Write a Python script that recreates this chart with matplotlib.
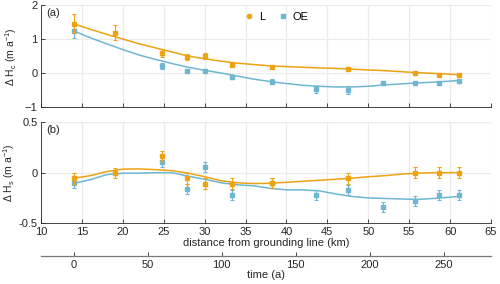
import matplotlib
matplotlib.use("Agg")
import matplotlib.pyplot as plt
from matplotlib.lines import Line2D

plt.rcParams['font.family'] = ['Liberation Sans', 'DejaVu Sans']
plt.rcParams['mathtext.default'] = 'regular'
plt.rcParams['font.size'] = 8

ORANGE = '#EDA212'
BLUE = '#6FB6D2'
AXC = '#262626'
GRIDC = '#EBEBEB'

# measured points
dist_L = [14, 19.1, 24.8, 27.8, 30.1, 33.4, 38.2, 47.5, 55.7, 58.6, 61.1]
dist_OE = [14, 24.8, 27.8, 30.1, 33.4, 38.2, 43.6, 47.5, 51.8, 55.7, 58.6, 61.1]

hc_L = [1.46, 1.20, 0.59, 0.49, 0.51, 0.26, 0.19, 0.13, 0.02, -0.04, -0.04]
hc_L_err = [0.28, 0.22, 0.12, 0.09, 0.10, 0.05, 0.04, 0.03, 0.03, 0.03, 0.03]
hc_OE = [1.25, 0.22, 0.07, 0.08, -0.12, -0.24, -0.47, -0.49, -0.28, -0.28, -0.27, -0.23]
hc_OE_err = [0.22, 0.08, 0.05, 0.05, 0.05, 0.06, 0.11, 0.11, 0.06, 0.06, 0.06, 0.06]

hs_L = [-0.055, 0.0, 0.165, -0.055, -0.11, -0.11, -0.105, -0.055, 0.0, 0.0, 0.0]
hs_L_err = [0.055, 0.05, 0.05, 0.055, 0.055, 0.055, 0.05, 0.055, 0.055, 0.055, 0.055]
hs_OE = [-0.105, 0.11, -0.165, 0.055, -0.225, -0.105, -0.22, -0.17, -0.34, -0.28, -0.22, -0.22]
hs_OE_err = [0.05, 0.05, 0.05, 0.05, 0.05, 0.05, 0.05, 0.05, 0.05, 0.05, 0.05, 0.05]

# fitted curves
fit_x = [14, 16, 18, 20, 22, 24, 26, 28, 30, 32, 34, 36, 38, 40, 42, 44, 46, 48, 50, 52, 54, 56, 58, 61.1]
fit_hc_L = [1.46, 1.30, 1.15, 1.01, 0.87, 0.75, 0.63, 0.51, 0.43, 0.36, 0.30, 0.26, 0.22, 0.20,
            0.18, 0.16, 0.145, 0.125, 0.10, 0.08, 0.05, 0.02, 0.0, -0.04]
fit_hc_OE = [1.25, 1.05, 0.87, 0.70, 0.54, 0.41, 0.29, 0.18, 0.09, 0.01, -0.08, -0.17, -0.24, -0.30,
             -0.35, -0.38, -0.40, -0.40, -0.38, -0.34, -0.31, -0.28, -0.26, -0.21]
fit_hs_L = [-0.055, -0.03, 0.01, 0.035, 0.037, 0.03, 0.02, -0.005, -0.04, -0.08, -0.10, -0.108,
            -0.105, -0.095, -0.085, -0.075, -0.065, -0.055, -0.04, -0.03, -0.015, -0.005, 0.0, 0.0]
fit_hs_OE = [-0.105, -0.07, -0.02, -0.005, -0.005, 0.0, 0.0, -0.035, -0.065, -0.10, -0.12, -0.13,
             -0.155, -0.17, -0.17, -0.18, -0.21, -0.235, -0.25, -0.255, -0.26, -0.265, -0.255, -0.235]

fig = plt.figure(figsize=(5.0, 2.84), dpi=100)
ax1 = fig.add_axes([0.082, 0.622, 0.9, 0.359])
ax2 = fig.add_axes([0.082, 0.214, 0.9, 0.356])


def style(ax, yticks, ylim):
    ax.set_xlim(10, 65)
    ax.set_ylim(*ylim)
    ax.set_xticks(range(10, 66, 5))
    ax.set_yticks(yticks)
    ax.grid(True, color=GRIDC, lw=0.9)
    ax.set_axisbelow(True)
    for s in ['top', 'right']:
        ax.spines[s].set_visible(False)
    for s in ['left', 'bottom']:
        ax.spines[s].set_color(AXC)
        ax.spines[s].set_linewidth(0.6)
    ax.tick_params(direction='in', length=3, width=0.6, colors=AXC, labelsize=8, pad=2.5)


def draw(ax, cL, cOE, yL, eL, yOE, eOE):
    ax.plot(fit_x, cL, color=ORANGE, lw=1.1, zorder=2)
    ax.plot(fit_x, cOE, color=BLUE, lw=1.1, zorder=2)
    ax.errorbar(dist_OE, yOE, yerr=eOE, fmt='s', ms=3, color=BLUE, ecolor=BLUE,
                elinewidth=0.8, capsize=1.5, capthick=0.8, zorder=3)
    ax.errorbar(dist_L, yL, yerr=eL, fmt='s', ms=3, color=ORANGE, ecolor=ORANGE,
                elinewidth=0.8, capsize=1.5, capthick=0.8, zorder=4)


style(ax1, [-1, 0, 1, 2], (-1, 2))
ax1.tick_params(labelbottom=False)
draw(ax1, fit_hc_L, fit_hc_OE, hc_L, hc_L_err, hc_OE, hc_OE_err)
ax1.set_ylabel(r'$\Delta$ H$_c$ (m a$^{-1}$)', color=AXC, fontsize=7.5, labelpad=4)
ax1.text(0.012, 0.97, '(a)', transform=ax1.transAxes, va='top', ha='left', color=AXC, fontsize=8)

style(ax2, [-0.5, 0, 0.5], (-0.5, 0.5))
ax2.set_yticklabels(['-0.5', '0', '0.5'])
draw(ax2, fit_hs_L, fit_hs_OE, hs_L, hs_L_err, hs_OE, hs_OE_err)
ax2.set_ylabel(r'$\Delta$ H$_s$ (m a$^{-1}$)', color=AXC, fontsize=7.5, labelpad=1)
ax2.text(0.012, 0.97, '(b)', transform=ax2.transAxes, va='top', ha='left', color=AXC, fontsize=8)
ax2.set_xlabel('distance from grounding line (km)', color=AXC, fontsize=8, labelpad=1)

handles = [Line2D([], [], ls='none', marker='o', ms=3, color=ORANGE),
           Line2D([], [], ls='none', marker='s', ms=3, color=BLUE)]
ax1.legend(handles, ['L', 'OE'], ncol=2, frameon=False, loc='upper left',
           bbox_to_anchor=(0.43, 1.03), handlelength=0.8, handletextpad=0.5,
           columnspacing=1.2, fontsize=8)

# time axis below
km_per_a = 1 / 5.53
tax = ax2.secondary_xaxis(-0.32, functions=(lambda d: (d - 14) / km_per_a,
                                             lambda t: 14 + t * km_per_a))
tax.set_xticks([0, 50, 100, 150, 200, 250])
tax.spines['bottom'].set_color('#777777')
tax.spines['bottom'].set_linewidth(0.9)
tax.tick_params(direction='in', length=3, width=0.6, colors=AXC, labelsize=8, pad=3)
tax.set_xlabel('time (a)', color=AXC, fontsize=8, labelpad=0.5)

fig.savefig('out.png', dpi=100)
